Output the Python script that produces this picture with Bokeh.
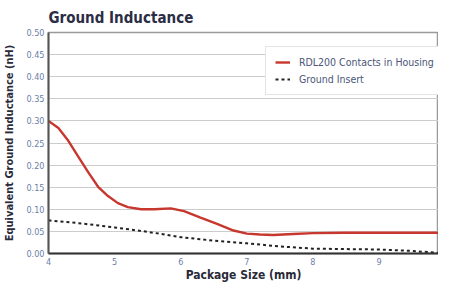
from bokeh.plotting import figure
from bokeh.models import Legend, LegendItem, FixedTicker, Range1d, CustomJSTickFormatter
from bokeh.embed import file_html
from bokeh.resources import INLINE

# Data
pkg_size = [4.0, 4.15, 4.3, 4.45, 4.6, 4.75, 4.9, 5.05, 5.2, 5.4, 5.6, 5.85,
            6.05, 6.3, 6.55, 6.8, 7.0, 7.2, 7.4, 7.7, 8.0, 8.5, 9.0, 9.5, 10.0]
rdl200 = [0.300, 0.284, 0.255, 0.219, 0.184, 0.151, 0.130, 0.114, 0.105, 0.100,
          0.100, 0.102, 0.096, 0.081, 0.067, 0.052, 0.045, 0.043, 0.042, 0.044,
          0.046, 0.047, 0.047, 0.047, 0.047]
ground_x = [4.0, 4.5, 5.0, 5.5, 6.0, 6.5, 7.0, 7.5, 8.0, 8.5, 9.0, 9.5, 10.0]
ground_insert = [0.075, 0.068, 0.059, 0.049, 0.037, 0.029, 0.023, 0.016, 0.011,
                 0.010, 0.009, 0.006, 0.000]
x_ticks = [4, 5, 6, 7, 8, 9, 10]
y_ticks = [0.0, 0.05, 0.10, 0.15, 0.20, 0.25, 0.30, 0.35, 0.40, 0.45, 0.50]

FONT = "DejaVu Sans Condensed"

p = figure(width=438, height=284, output_backend="svg", toolbar_location=None,
           x_range=Range1d(4, 9.9), y_range=Range1d(0, 0.5),
           title="Ground Inductance")
p.min_border_left = 41
p.min_border_right = 0
p.min_border_top = 25
p.min_border_bottom = 0

p.title.text_font = FONT
p.title.text_font_style = "bold"
p.title.text_font_size = "15px"
p.title.text_color = "#2b2d45"
p.title.offset = 0
p.title.standoff = 12

p.outline_line_color = "#9a9a9a"
p.outline_line_width = 1.5
p.background_fill_color = "white"
p.border_fill_color = "white"

p.xgrid.grid_line_color = None
p.ygrid.grid_line_color = "#cccccc"
p.ygrid.grid_line_width = 1.2

p.xaxis.ticker = FixedTicker(ticks=x_ticks)
p.yaxis.ticker = FixedTicker(ticks=y_ticks)
p.yaxis.formatter = CustomJSTickFormatter(code="return tick.toFixed(2);")

for ax in (p.xaxis, p.yaxis):
    ax.major_tick_line_color = None
    ax.minor_tick_line_color = None
    ax.major_tick_out = 0
    ax.major_tick_in = 0
    ax.minor_tick_out = 0
    ax.minor_tick_in = 0
    ax.major_label_text_font = FONT
    ax.major_label_text_font_size = "9px"
    ax.major_label_text_color = "#6d80a8"
    ax.axis_label_text_font = FONT
    ax.axis_label_text_font_style = "bold"
    ax.axis_label_text_color = "#2a2a3a"

p.yaxis.axis_line_color = "#555555"
p.yaxis.axis_line_width = 2
p.xaxis.axis_line_color = "#333333"
p.xaxis.axis_line_width = 2
p.yaxis.major_label_standoff = 4
p.xaxis.major_label_standoff = 4

p.yaxis.axis_label = "Equivalent Ground Inductance (nH)"
p.yaxis.axis_label_text_font_size = "11px"
p.yaxis.axis_label_standoff = 7

p.xaxis.axis_label = "Package Size (mm)"
p.xaxis.axis_label_text_font_size = "12px"
p.xaxis.axis_label_standoff = 0

r1 = p.line(pkg_size, rdl200, line_color="#c8372d", line_width=2.4,
            line_join="round")
r2 = p.line(ground_x, ground_insert, line_color="#222222", line_width=2,
            line_dash="3 3")

legend = Legend(items=[LegendItem(label="RDL200 Contacts in Housing", renderers=[r1]),
                       LegendItem(label="Ground Insert", renderers=[r2])],
                location=(217, 158))
legend.label_text_font = FONT
legend.label_text_font_size = "10.5px"
legend.label_text_color = "#4a5578"
legend.border_line_color = "#cccccc"
legend.border_line_width = 1
legend.glyph_width = 15
legend.glyph_height = 12
legend.label_height = 12
legend.spacing = 5
legend.padding = 9
legend.margin = 0
legend.label_standoff = 9
legend.background_fill_alpha = 1
p.add_layout(legend, "center")

open("out.html", "w").write(file_html(p, INLINE))
